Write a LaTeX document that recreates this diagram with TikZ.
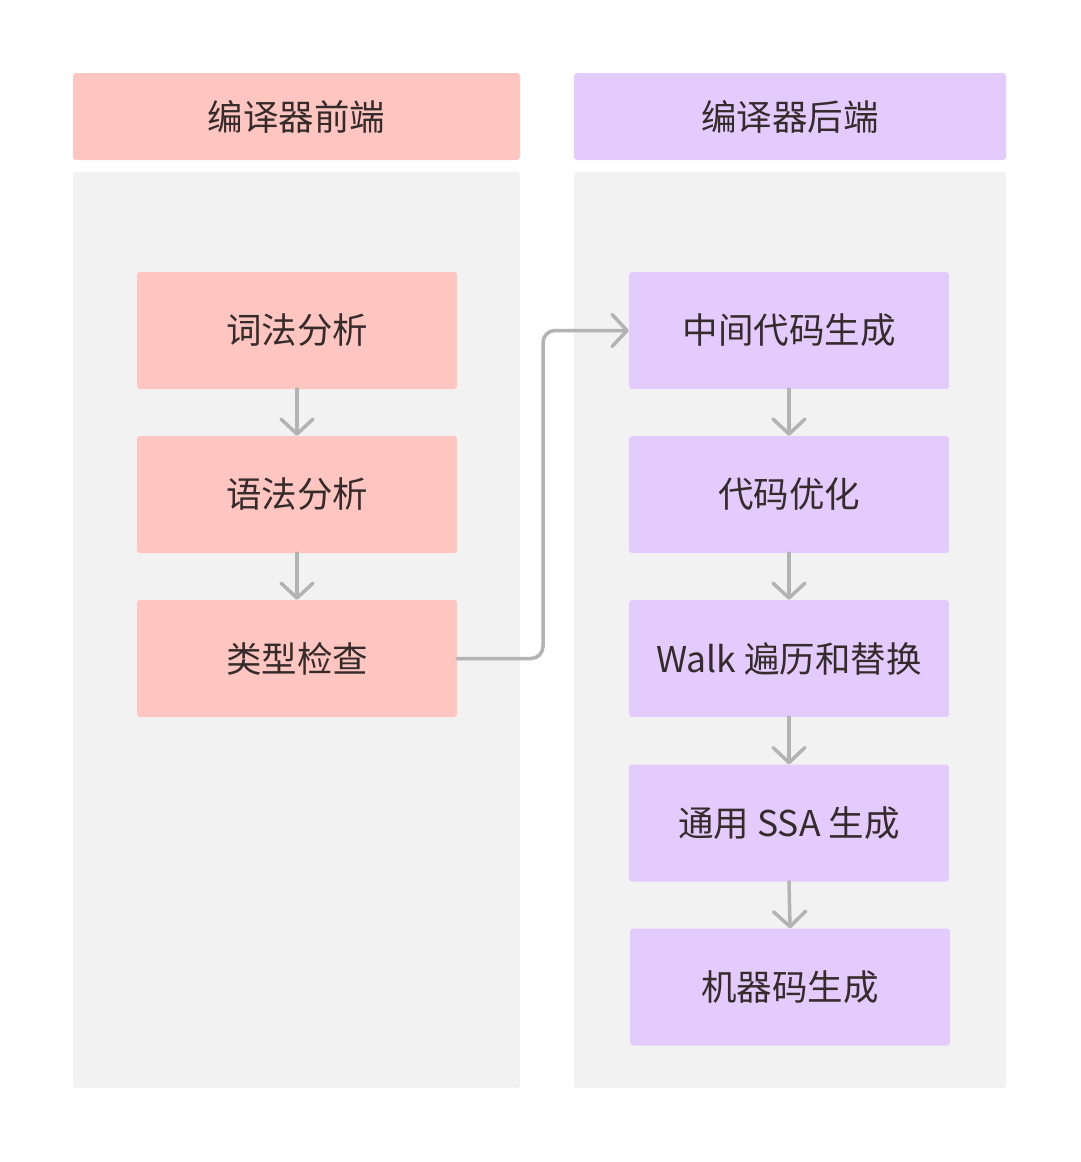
\documentclass[tikz,border=0pt]{standalone}
\usepackage{fontspec}
\setmainfont{Noto Sans CJK SC}
\usetikzlibrary{arrows.meta}
\definecolor{pinkbox}{HTML}{FFC6C1}
\definecolor{purplebox}{HTML}{E3CCFD}
\definecolor{panelgray}{HTML}{F2F2F2}
\definecolor{linegray}{HTML}{B3B3B3}
\definecolor{txt}{HTML}{352B2B}
\begin{document}
\begin{tikzpicture}[x=1pt,y=-1pt,
  panel/.style={fill=panelgray, rounded corners=3pt},
  header/.style={rounded corners=3pt, inner sep=0pt, minimum height=87pt, text=txt, font=\fontsize{35.5}{42}\selectfont},
  stepbox/.style={rounded corners=3pt, inner sep=0pt, minimum width=320pt, minimum height=117pt, text=txt, font=\fontsize{35.5}{42}\selectfont},
  flow/.style={draw=linegray, line width=3.5pt, line cap=round, -{Straight Barb[length=15pt,width=32pt,round]}}
]
\useasboundingbox[fill=white] (0,0) rectangle (1080,1162);
% panels
\fill[panel] (73,172) rectangle (520,1088);
\fill[panel] (574,172) rectangle (1006,1088);
% headers
\node[header, fill=pinkbox, minimum width=447pt] (hf) at (296.5,116.5) {编译器前端};
\node[header, fill=purplebox, minimum width=432pt] (hb) at (790,116.5) {编译器后端};
% front end
\node[stepbox, fill=pinkbox] (l1) at (297,330.5) {词法分析};
\node[stepbox, fill=pinkbox] (l2) at (297,494.5) {语法分析};
\node[stepbox, fill=pinkbox] (l3) at (297,658.5) {类型检查};
% back end
\node[stepbox, fill=purplebox] (r1) at (789,330.5) {中间代码生成};
\node[stepbox, fill=purplebox] (r2) at (789,494.5) {代码优化};
\node[stepbox, fill=purplebox] (r3) at (789,658.5) {Walk 遍历和替换};
\node[stepbox, fill=purplebox] (r4) at (789,823) {通用 SSA 生成};
\node[stepbox, fill=purplebox] (r5) at (790,987) {机器码生成};
% arrows
\draw[flow] (l1.south) -- (l2.north);
\draw[flow] (l2.south) -- (l3.north);
\draw[flow] (r1.south) -- (r2.north);
\draw[flow] (r2.south) -- (r3.north);
\draw[flow] (r3.south) -- (r4.north);
\draw[flow] (r4.south) -- (r5.north);
\coordinate (bend) at (543,658.5);
\draw[flow, rounded corners=12pt] (l3.east) -- (bend) |- (r1.west);
\end{tikzpicture}
\end{document}
